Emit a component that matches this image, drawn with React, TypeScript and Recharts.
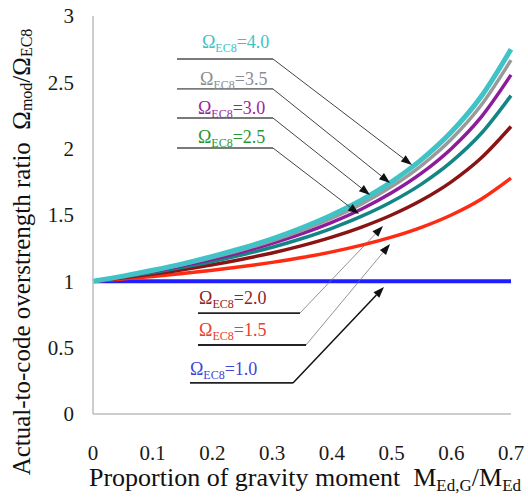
import React from 'react';
import { LineChart, Line, XAxis, YAxis, ReferenceLine, ReferenceDot } from 'recharts';

// proportion of gravity moment
const xValues = [0, 0.05, 0.1, 0.15, 0.2, 0.25, 0.3, 0.35, 0.4, 0.45, 0.5, 0.55, 0.6, 0.65, 0.7];

// overstrength ratio curves, one per Omega_EC8
const omega40 = [1, 1.039, 1.083, 1.132, 1.188, 1.25, 1.321, 1.404, 1.5, 1.614, 1.75, 1.917, 2.125, 2.393, 2.75];
const omega35 = [1, 1.038, 1.079, 1.126, 1.179, 1.238, 1.306, 1.385, 1.476, 1.584, 1.714, 1.873, 2.071, 2.327, 2.667];
const omega30 = [1, 1.035, 1.074, 1.118, 1.167, 1.222, 1.286, 1.359, 1.444, 1.545, 1.667, 1.815, 2.0, 2.238, 2.556];
const omega25 = [1, 1.032, 1.067, 1.106, 1.15, 1.2, 1.257, 1.323, 1.4, 1.491, 1.6, 1.733, 1.9, 2.114, 2.4];
const omega20 = [1, 1.026, 1.056, 1.088, 1.125, 1.167, 1.214, 1.269, 1.333, 1.409, 1.5, 1.611, 1.75, 1.929, 2.167];
const omega15 = [1, 1.018, 1.037, 1.059, 1.083, 1.111, 1.143, 1.179, 1.222, 1.273, 1.333, 1.407, 1.5, 1.619, 1.778];
const omega10 = [1, 1, 1, 1, 1, 1, 1, 1, 1, 1, 1, 1, 1, 1, 1];

const xTicks = [0, 0.1, 0.2, 0.3, 0.4, 0.5, 0.6, 0.7];
const yTicks = [0, 0.5, 1, 1.5, 2, 2.5, 3];

const data = xValues.map((x, i) => ({
  x,
  o40: omega40[i],
  o35: omega35[i],
  o30: omega30[i],
  o25: omega25[i],
  o20: omega20[i],
  o15: omega15[i],
  o10: omega10[i],
}));

const FONT = '"Liberation Serif", "Times New Roman", serif';

// callouts: label anchor, underline and arrow (chart units)
const callouts = [
  { text: '4.0', color: '#3fc3c6', lx: 0.1825, ly: 2.759, y: 2.676, x0: 0.1407, x1: 0.3014, tx: 0.5342, ty: 1.877, under: '#7a7a7a', arrow: '#444', aw: 1 },
  { text: '3.5', color: '#8c8c8c', lx: 0.1792, ly: 2.48, y: 2.45, x0: 0.1407, x1: 0.3014, tx: 0.4974, ty: 1.741, under: '#7a7a7a', arrow: '#444', aw: 1 },
  { text: '3.0', color: '#9a1fa0', lx: 0.1758, ly: 2.261, y: 2.231, x0: 0.1407, x1: 0.3014, tx: 0.4639, ty: 1.651, under: '#7a7a7a', arrow: '#444', aw: 1 },
  { text: '2.5', color: '#2a9630', lx: 0.1758, ly: 2.043, y: 2.005, x0: 0.1407, x1: 0.3014, tx: 0.4454, ty: 1.508, under: '#7a7a7a', arrow: '#444', aw: 1 },
  { text: '2.0', color: '#8e2424', lx: 0.1775, ly: 0.829, y: 0.761, x0: 0.1758, x1: 0.3466, tx: 0.4856, ty: 1.417, under: '#222', arrow: '#777', aw: 0.8 },
  { text: '1.5', color: '#e8402e', lx: 0.1775, ly: 0.588, y: 0.52, x0: 0.1758, x1: 0.3567, tx: 0.4974, ty: 1.281, under: '#222', arrow: '#777', aw: 0.8 },
  { text: '1.0', color: '#4444d8', lx: 0.1624, ly: 0.294, y: 0.234, x0: 0.1624, x1: 0.3349, tx: 0.4873, ty: 0.957, under: '#222', arrow: '#111', aw: 1.5 },
];

const arrowShape = (color: string, width: number) => (p: any) => {
  const { x1, y1, x2, y2 } = p;
  const a = Math.atan2(y2 - y1, x2 - x1);
  const L = 11;
  const W = 4;
  const bx = x2 - L * Math.cos(a);
  const by = y2 - L * Math.sin(a);
  const pts = `${x2},${y2} ${bx - W * Math.sin(a)},${by + W * Math.cos(a)} ${bx + W * Math.sin(a)},${by - W * Math.cos(a)}`;
  return (
    <g>
      <line x1={x1} y1={y1} x2={bx} y2={by} stroke={color} strokeWidth={width} />
      <polygon points={pts} fill="#111" />
    </g>
  );
};

const labelShape = (value: string, color: string) => (p: any) => (
  <text x={p.cx} y={p.cy} fill={color} fontFamily={FONT} fontSize={18}>
    Ω
    <tspan fontSize={12} dy={4}>EC8</tspan>
    <tspan dy={-4}>={value}</tspan>
  </text>
);

const XTitle = () => (
  <text x={305} y={486} textAnchor="middle" fontFamily={FONT} fontSize={26} fill="#111">
    Proportion of gravity moment{'\u00A0\u00A0'}M
    <tspan fontSize={17} dy={5}>Ed,G</tspan>
    <tspan dy={-5}>/M</tspan>
    <tspan fontSize={17} dy={5}>Ed</tspan>
  </text>
);

const YTitle = () => (
  <text
    x={21}
    y={252}
    transform="rotate(-90 21 252)"
    textAnchor="middle"
    dominantBaseline="central"
    fontFamily={FONT}
    fontSize={25}
    fill="#111"
  >
    Actual-to-code overstrength ratio{'\u00A0\u00A0'}Ω
    <tspan fontSize={16} dy={5}>mod</tspan>
    <tspan dy={-5}>/Ω</tspan>
    <tspan fontSize={16} dy={5}>EC8</tspan>
  </text>
);

export default function App() {
  return (
    <div style={{ position: 'absolute', left: 0, top: 0, width: 528, height: 497, background: '#fff' }}>
      <LineChart width={528} height={497} data={data} margin={{ top: 16, right: 17, left: 0, bottom: 0 }}>
        <XAxis
          dataKey="x"
          type="number"
          domain={[0, 0.7]}
          ticks={xTicks}
          tickFormatter={(v) => String(v)}
          height={83}
          tickLine={false}
          tickSize={0}
          tickMargin={31}
          axisLine={{ stroke: '#bdbdbd', strokeWidth: 1.5 }}
          tick={{ fontFamily: FONT, fontSize: 21, fill: '#1a1a1a' }}
          label={{ content: () => <XTitle /> }}
        />
        <XAxis xAxisId="top" orientation="top" dataKey="x" type="number" domain={[0, 0.7]} height={0} tick={false} tickLine={false} axisLine={{ stroke: '#cfcfcf', strokeWidth: 1.5 }} />
        <YAxis
          type="number"
          domain={[0, 3]}
          ticks={yTicks}
          tickFormatter={(v) => String(v)}
          width={93}
          tickLine={false}
          tickSize={0}
          tickMargin={19}
          axisLine={{ stroke: '#bdbdbd', strokeWidth: 1.5 }}
          tick={{ fontFamily: FONT, fontSize: 21, fill: '#1a1a1a' }}
          label={{ content: () => <YTitle /> }}
        />
        <YAxis yAxisId="right" orientation="right" type="number" domain={[0, 3]} width={0} tick={false} tickLine={false} axisLine={{ stroke: '#cfcfcf', strokeWidth: 1.5 }} />

        <Line type="monotone" dataKey="o10" stroke="#1e1eff" strokeWidth={4} dot={false} isAnimationActive={false} />
        <Line type="monotone" dataKey="o15" stroke="#ff2a12" strokeWidth={3.5} dot={false} isAnimationActive={false} />
        <Line type="monotone" dataKey="o20" stroke="#8a1414" strokeWidth={3.5} dot={false} isAnimationActive={false} />
        <Line type="monotone" dataKey="o25" stroke="#138585" strokeWidth={3.5} dot={false} isAnimationActive={false} />
        <Line type="monotone" dataKey="o30" stroke="#8c1c9c" strokeWidth={3.5} dot={false} isAnimationActive={false} />
        <Line type="monotone" dataKey="o35" stroke="#9a9a9a" strokeWidth={3.5} dot={false} isAnimationActive={false} />
        <Line type="monotone" dataKey="o40" stroke="#3fc3c6" strokeWidth={5} dot={false} isAnimationActive={false} />

        {callouts.map((c) => (
          <ReferenceLine
            key={'u' + c.text}
            segment={[{ x: c.x0, y: c.y }, { x: c.x1, y: c.y }]}
            stroke={c.under}
            strokeWidth={1.8}
            ifOverflow="visible"
          />
        ))}
        {callouts.map((c) => (
          <ReferenceLine
            key={'a' + c.text}
            segment={[{ x: c.x1, y: c.y }, { x: c.tx, y: c.ty }]}
            ifOverflow="visible"
            shape={arrowShape(c.arrow, c.aw)}
          />
        ))}
        {callouts.map((c) => (
          <ReferenceDot
            key={'l' + c.text}
            x={c.lx}
            y={c.ly}
            r={1}
            ifOverflow="visible"
            shape={labelShape(c.text, c.color)}
          />
        ))}
      </LineChart>
    </div>
  );
}
